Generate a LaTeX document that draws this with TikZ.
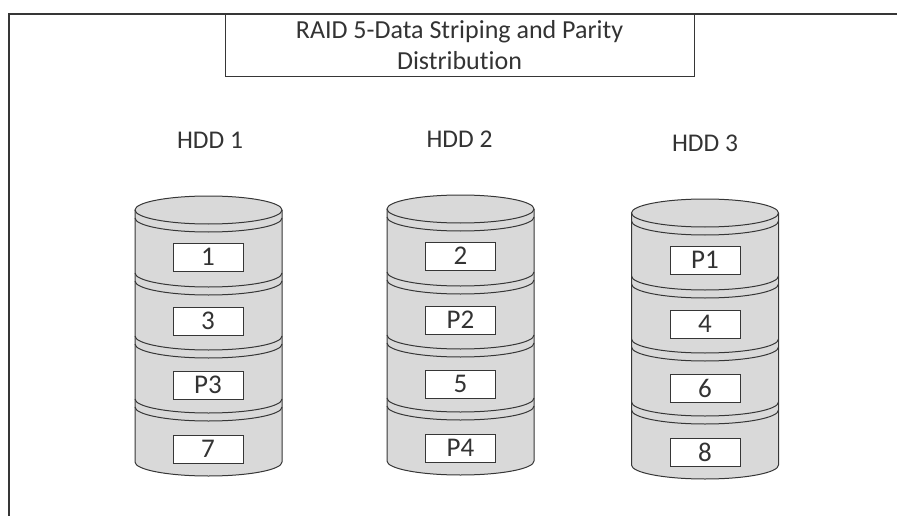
\documentclass[tikz,border=0pt]{standalone}
\usepackage{fontspec}
\setmainfont{Carlito}[Ligatures=NoCommon]
\usetikzlibrary{positioning}
\definecolor{diskGray}{HTML}{D9D9D9}
\definecolor{lineGray}{HTML}{363636}
\definecolor{textGray}{HTML}{333333}
\tikzset{
  frameline/.style={draw=lineGray,line width=1.6pt},
  titlebox/.style={draw=lineGray,line width=1pt,minimum width=469pt,minimum height=63pt,
    align=center,text=textGray,font=\fontsize{26}{31}\selectfont},
  hddlabel/.style={text=textGray,font=\fontsize{25.5}{30}\selectfont},
  blockbox/.style={draw=lineGray,fill=white,line width=1pt,inner sep=0pt,
    minimum width=70pt,minimum height=28pt,text=textGray,font=\fontsize{27}{28}\selectfont},
  diskline/.style={draw=lineGray,line width=1pt}
}
% #1 = centre x, #2 = centre y of the top ellipse
\newcommand{\diskstack}[2]{
  \fill[diskGray] (#1,#2) ellipse[x radius=73.5,y radius=14];
  \fill[diskGray] (#1-73.5,#2) -- (#1-73.5,#2+252)
    arc[start angle=180,end angle=0,x radius=73.5,y radius=14] -- (#1+73.5,#2) -- cycle;
  \draw[diskline] (#1,#2) ellipse[x radius=73.5,y radius=14];
  \draw[diskline] (#1-73.5,#2) -- (#1-73.5,#2+252)
    arc[start angle=180,end angle=0,x radius=73.5,y radius=14] -- (#1+73.5,#2);
  \foreach \k in {0,...,3}
    \draw[diskline] (#1-73.5,#2+63*\k+8) arc[start angle=180,end angle=0,x radius=73.5,y radius=14];
  \foreach \k in {1,2,3}
    \draw[diskline] (#1-73.5,#2+63*\k) arc[start angle=180,end angle=0,x radius=73.5,y radius=14];
}

\begin{document}
\begin{tikzpicture}[x=1pt,y=-1pt]
  \useasboundingbox (0,0) rectangle (897,516);
  \coordinate (frameBL) at (9,516);
  \coordinate (frameTL) at (9,14);
  \coordinate (frameTR) at (897,14);
  \draw[frameline] (frameBL) -- (frameTL) -- (frameTR);

  \node[titlebox] (title) at (459.5,45.5) {RAID 5-Data Striping and Parity\\Distribution};

  \node[hddlabel] (hdd1) at (210,140) {HDD 1};
  \node[hddlabel] (hdd2) at (459.5,139) {HDD 2};
  \node[hddlabel] (hdd3) at (705,143) {HDD 3};

  \diskstack{208.5}{210}
  \diskstack{460.5}{209}
  \diskstack{705}{213}

  % HDD 1
  \node[blockbox] (blk1) at (208,257) {1};
  \node[blockbox, below=35pt of blk1] (blk3) {3};
  \node[blockbox, below=35pt of blk3] (par3) {P3};
  \node[blockbox, below=35pt of par3] (blk7) {7};

  % HDD 2
  \node[blockbox] (blk2) at (460.5,256) {2};
  \node[blockbox, below=35pt of blk2] (par2) {P2};
  \node[blockbox, below=35pt of par2] (blk5) {5};
  \node[blockbox, below=35pt of blk5] (par4) {P4};

  % HDD 3
  \node[blockbox] (par1) at (705,260) {P1};
  \node[blockbox, below=35pt of par1] (blk4) {4};
  \node[blockbox, below=35pt of blk4] (blk6) {6};
  \node[blockbox, below=35pt of blk6] (blk8) {8};
\end{tikzpicture}
\end{document}
